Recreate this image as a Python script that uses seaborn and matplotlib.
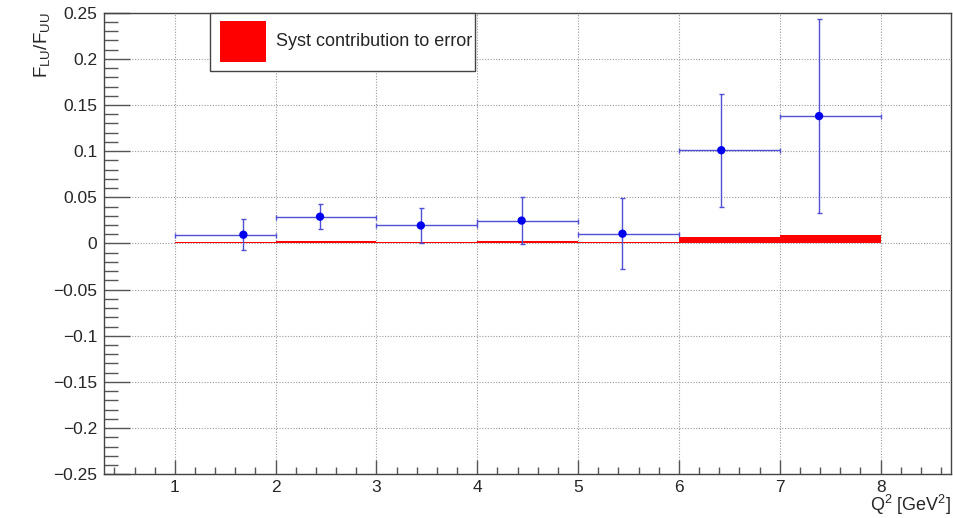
import numpy as np
import pandas as pd
import matplotlib
matplotlib.use("Agg")
import matplotlib.pyplot as plt
from matplotlib.patches import Rectangle
from matplotlib.ticker import MultipleLocator, FuncFormatter
import seaborn as sns

# ---- data ----
bin_lo = [1, 2, 3, 4, 5, 6, 7]
bin_hi = [2, 3, 4, 5, 6, 7, 8]
q2_mean = [1.68, 2.44, 3.44, 4.44, 5.44, 6.42, 7.39]
ratio = [0.0095, 0.0290, 0.0195, 0.0248, 0.0106, 0.1010, 0.1380]
stat_err = [0.0170, 0.0135, 0.0188, 0.0257, 0.0385, 0.0610, 0.1050]
syst_err = [0.0018, 0.0027, 0.0018, 0.0027, 0.0013, 0.0067, 0.0093]

legend_label = "Syst contribution to error"
x_label = r"Q$^{2}$ [GeV$^{2}$]"
y_label = r"F$_{\mathrm{LU}}$/F$_{\mathrm{UU}}$"

df = pd.DataFrame({"lo": bin_lo, "hi": bin_hi, "x": q2_mean,
                   "y": ratio, "err": stat_err, "syst": syst_err})

sns.set_theme(style="white")
plt.rcParams["font.family"] = ["Liberation Sans", "DejaVu Sans"]
plt.rcParams["mathtext.fontset"] = "custom"
plt.rcParams["mathtext.rm"] = "Liberation Sans"
plt.rcParams["mathtext.it"] = "Liberation Sans:italic"
plt.rcParams["mathtext.bf"] = "Liberation Sans:bold"

fig = plt.figure(figsize=(9.54, 5.18), dpi=100)
ax = fig.add_axes([0.1093, 0.0844, 0.8877, 0.8911])

# grid
ax.set_axisbelow(True)
ax.grid(True, which="major", color="#9a9a9a", linestyle=(0, (1, 1.5)), linewidth=0.8)

# systematic band
ax.bar(df["lo"], df["syst"], width=np.array(bin_hi) - np.array(bin_lo),
       align="edge", color="#ff0000", edgecolor="none", zorder=2)

# statistical errors
ax.errorbar(df["x"], df["y"],
            xerr=[df["x"] - df["lo"], df["hi"] - df["x"]],
            yerr=df["err"], fmt="none", ecolor="#5050d4", elinewidth=1.0,
            capsize=1.8, capthick=1.0, zorder=3)
sns.scatterplot(data=df, x="x", y="y", ax=ax, color="#0000f0", s=36,
                edgecolor="none", zorder=4, legend=False)

ax.set_xlim(0.3, 8.7)
ax.set_ylim(-0.25, 0.25)
ax.xaxis.set_major_locator(MultipleLocator(1))
ax.xaxis.set_minor_locator(MultipleLocator(0.2))
ax.yaxis.set_major_locator(MultipleLocator(0.05))
ax.yaxis.set_minor_locator(MultipleLocator(0.01))
ax.yaxis.set_major_formatter(FuncFormatter(lambda v, p: f"{round(v, 3):g}".replace("-", "\u2212")))
ax.xaxis.set_major_formatter(FuncFormatter(lambda v, p: f"{v:g}"))

ax.tick_params(axis="x", which="major", direction="in", length=10, width=1, color="#555555",
               labelsize=12.5, pad=4, bottom=True, top=False)
ax.tick_params(axis="x", which="minor", direction="in", length=5, width=1, color="#555555",
               bottom=True, top=False)
ax.tick_params(axis="y", which="major", direction="in", length=19, width=1, color="#555555",
               labelsize=12.5, pad=5, left=True, right=False)
ax.tick_params(axis="y", which="minor", direction="in", length=10, width=1, color="#555555",
               left=True, right=False)

for s in ax.spines.values():
    s.set_color("#444444")
    s.set_linewidth(1.0)
    s.set_visible(True)

ax.set_xlabel(x_label, fontsize=13, loc="right")
ax.xaxis.set_label_coords(1.0, -0.041)
ax.xaxis.label.set_verticalalignment("top")
ax.set_ylabel(y_label, fontsize=13.5, loc="top")
ax.yaxis.set_label_coords(-0.062, 1.0)

# legend box (ROOT style)
lx0, lx1 = (210 - 104) / 847, (475 - 104) / 847
ly0, ly1 = (474.3 - 70.7) / 461.6, 1.0
ax.add_patch(Rectangle((lx0, ly0), lx1 - lx0, ly1 - ly0, transform=ax.transAxes,
                       facecolor="white", edgecolor="#444444", linewidth=1.0, zorder=6,
                       clip_on=False))
ax.add_patch(Rectangle(((220 - 104) / 847, (474.3 - 62) / 461.6), 46 / 847, 41 / 461.6,
                       transform=ax.transAxes, facecolor="#ff0000", edgecolor="none",
                       zorder=7, clip_on=False))
ax.text((276 - 104) / 847, (474.3 - 41.5) / 461.6, legend_label, transform=ax.transAxes,
        fontsize=13, va="center", ha="left", zorder=8)

fig.savefig("out.png", dpi=100)
